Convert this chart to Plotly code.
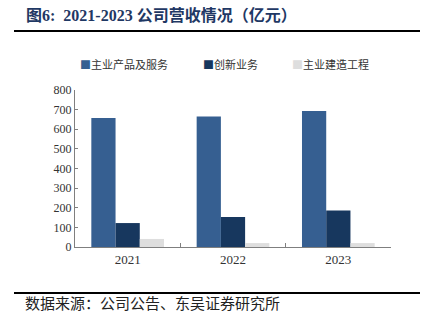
import plotly.graph_objects as go

years = ["2021", "2022", "2023"]
main_biz = [657, 665, 693]
innovation = [122, 153, 186]
engineering = [41, 20, 20]
series_names = ["主业产品及服务", "创新业务", "主业建造工程"]
colors = ["#365F91", "#17375E", "#DEDEDE"]
y_ticks = [0, 100, 200, 300, 400, 500, 600, 700, 800]
legend_x_px = [78, 201, 290]

fig = go.Figure()
for name, vals, c in zip(series_names, [main_biz, innovation, engineering], colors):
    fig.add_trace(go.Bar(x=years, y=vals, name=name, marker=dict(color=c, line=dict(width=0)),
                         showlegend=False))

L, R, T, B = 75, 39, 90, 74
W, H = 430, 321
pw, ph = W - L - R, H - T - B

def px(x):
    return (x - L) / pw

def py(y):
    return (H - B - y) / ph

serif = "Liberation Serif, Noto Sans CJK SC, serif"
cjk = "Noto Sans CJK SC"

annotations = [
    dict(text="<b>图6:  2021-2023 公司营收情况（亿元）</b>", xref="paper", yref="paper",
         x=px(24), y=py(15), xanchor="left", yanchor="middle", showarrow=False,
         font=dict(family=serif, size=16, color="#1F3864")),
    dict(text="数据来源：公司公告、东吴证券研究所", xref="paper", yref="paper",
         x=px(23), y=py(302), xanchor="left", yanchor="middle", showarrow=False,
         font=dict(family=cjk, size=15, color="#222222")),
]
for name, c, lx in zip(series_names, colors, legend_x_px):
    annotations.append(dict(
        text=f'<span style="color:{c}">■</span>{name}', xref="paper", yref="paper",
        x=px(lx), y=py(64), xanchor="left", yanchor="middle", showarrow=False,
        font=dict(family=cjk, size=11, color="#333333")))

fig.update_layout(
    width=W, height=H,
    margin=dict(l=L, r=R, t=T, b=B),
    paper_bgcolor="white", plot_bgcolor="white",
    barmode="group", bargap=0.31, bargroupgap=0,
    font=dict(family=serif, size=11, color="#333333"),
    showlegend=False,
    xaxis=dict(type="category", showline=True, linecolor="#7F7F7F", linewidth=1,
               ticks="inside", ticklen=4, tickcolor="#7F7F7F", tickson="boundaries",
               showgrid=False, tickfont=dict(family=serif, size=13, color="#333333"),
               fixedrange=True),
    yaxis=dict(range=[0, 800], tickvals=y_ticks, showline=True, linecolor="#7F7F7F",
               linewidth=1, ticks="inside", ticklen=3, tickcolor="#7F7F7F",
               showgrid=False, zeroline=False,
               tickfont=dict(family=serif, size=12, color="#333333"), fixedrange=True),
    shapes=[
        dict(type="line", xref="paper", yref="paper", x0=px(14), x1=px(420), y0=py(31), y1=py(31),
             line=dict(color="#000000", width=2)),
        dict(type="line", xref="paper", yref="paper", x0=px(14), x1=px(420), y0=py(293), y1=py(293),
             line=dict(color="#000000", width=2)),
    ],
    annotations=annotations,
)

fig.write_html("out.html")
